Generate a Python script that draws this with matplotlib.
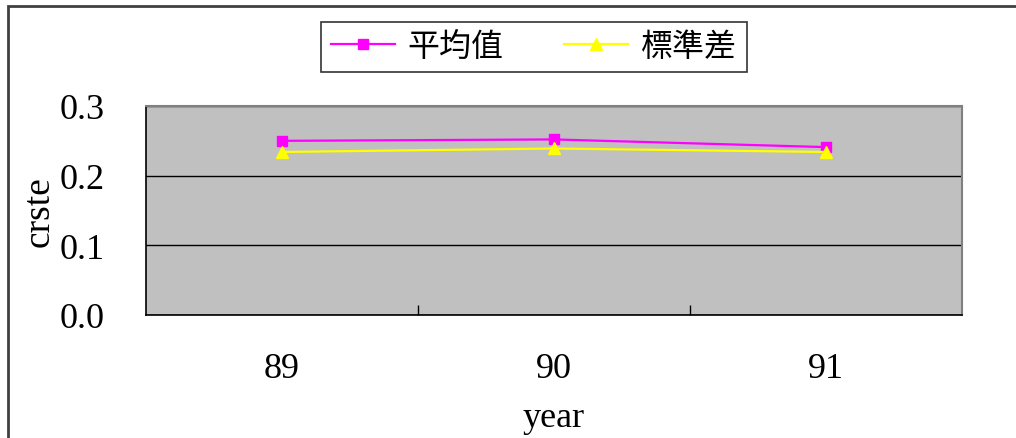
import matplotlib
matplotlib.use("Agg")
import matplotlib.pyplot as plt
from matplotlib.patches import Rectangle

# crste by year: mean and standard deviation
years = ["89", "90", "91"]
mean_vals = [0.250, 0.252, 0.241]
std_vals = [0.234, 0.239, 0.234]
series_names = ["平均值", "標準差"]
y_ticks = [0.0, 0.1, 0.2, 0.3]

fonts = ["Liberation Serif", "Noto Sans CJK TC", "DejaVu Sans"]
plt.rcParams["font.family"] = fonts

fig = plt.figure(figsize=(10.16, 4.39), dpi=100)
fig.patch.set_facecolor("white")

# outer chart border (only top and left visible)
fig.add_artist(Rectangle((8 / 1016, -0.05), 1.1, 1 - 7 / 439 + 0.05,
                         transform=fig.transFigure, fill=False,
                         edgecolor="#404040", linewidth=2, zorder=0))

ax = fig.add_axes([146 / 1016, 1 - 316 / 439, 816 / 1016, 209 / 439])
ax.set_facecolor("#C0C0C0")

x = list(range(len(years)))
ax.plot(x, mean_vals, color="#FF00FF", marker="s", markersize=7.5,
        linewidth=1.6, label=series_names[0], zorder=3)
ax.plot(x, std_vals, color="#FFFF00", marker="^", markersize=8.5,
        linewidth=1.6, label=series_names[1], zorder=3)

ax.set_xlim(-0.5, len(years) - 0.5)
ax.set_ylim(0, 0.3)
ax.set_yticks(y_ticks)
ax.set_yticklabels([f"{v:.1f}" for v in y_ticks], fontsize=26)
ax.set_xticks(x)
ax.set_xticklabels(years, fontsize=26)
ax.set_xticks([i + 0.5 for i in x[:-1]], minor=True)
ax.tick_params(axis="x", which="major", length=0, pad=27)
ax.tick_params(axis="x", which="minor", direction="in", length=7, width=1)
ax.tick_params(axis="y", length=0, pad=30)

ax.grid(axis="y", color="black", linewidth=1)
ax.set_axisbelow(True)
for side in ["top", "right"]:
    ax.spines[side].set_color("#808080")
    ax.spines[side].set_linewidth(1.5)
for side in ["left", "bottom"]:
    ax.spines[side].set_color("black")
    ax.spines[side].set_linewidth(1.2)

ax.set_ylabel("crste", fontsize=27, labelpad=2)
ax.set_xlabel("year", fontsize=26, labelpad=11)

leg = fig.legend(loc="center", bbox_to_anchor=(534 / 1016, 1 - 48 / 439),
                 ncol=2, frameon=True, fancybox=False,
                 handlelength=2.0, handletextpad=0.4, columnspacing=1.9,
                 borderpad=0.3, prop={"family": fonts, "size": 23})
leg.get_frame().set_edgecolor("black")
leg.get_frame().set_linewidth(1.2)

fig.savefig("out.png", dpi=100)
